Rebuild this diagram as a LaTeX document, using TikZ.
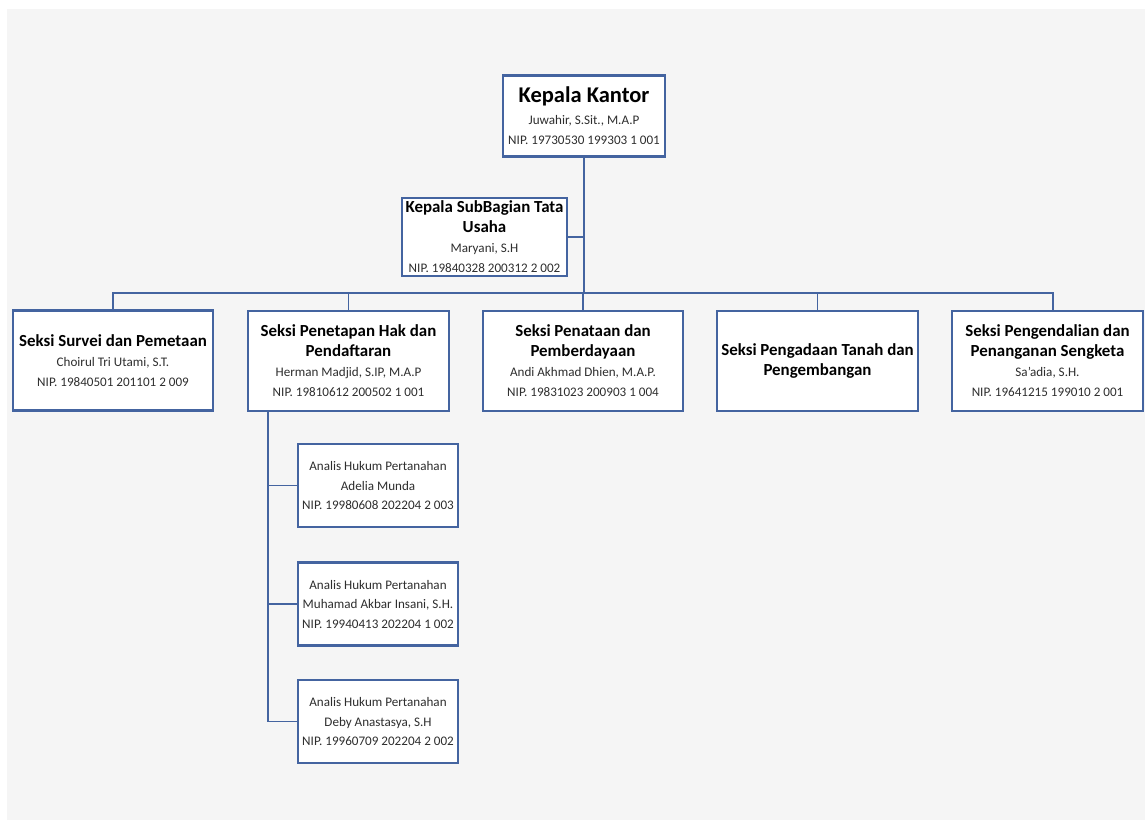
\documentclass[tikz,border=0pt]{standalone}
\usepackage{fontspec}
\setmainfont{Carlito}
\usepackage{xcolor}
\usetikzlibrary{positioning}

\definecolor{orgblue}{RGB}{68,100,160}
\definecolor{paper}{RGB}{245,245,245}
\newcommand{\jab}[1]{{\fontsize{16.9}{20}\selectfont\bfseries\color{black}#1}}

\begin{document}
\begin{tikzpicture}[
    x=1pt,
    y=-1pt,
    line cap=rect
]

\tikzstyle{unit}=[
    draw=orgblue,
    line width=2.4pt,
    fill=white,
    minimum width=200pt,
    minimum height=100pt,
    inner sep=2pt,
    align=center,
    font=\fontsize{13.1}{20}\selectfont,
    text=black!82
]
\tikzstyle{staff}=[
    unit,
    minimum width=160pt,
    minimum height=83pt,
    font=\fontsize{13.1}{19.5}\selectfont
]
\tikzstyle{link}=[draw=orgblue, line width=1.5pt]

\useasboundingbox (0,0) rectangle (1145,820);
\fill[paper] (7,9) rectangle (1145,820);


\node[unit, minimum width=162pt, minimum height=81pt] (kepala) at (584,116)
    {{\fontsize{22.5}{24}\selectfont\bfseries\color{black}Kepala Kantor}\\[2pt]
     Juwahir, S.Sit., M.A.P\\ NIP. 19730530 199303 1 001};
\node[unit, minimum width=165pt, minimum height=78pt] (tu) at (484.5,237)
    {\jab{Kepala SubBagian Tata}\\ \jab{Usaha}\\ Maryani, S.H\\ NIP. 19840328 200312 2 002};


\node[unit] (survei) at (113,360.5)
    {\jab{Seksi Survei dan Pemetaan}\\ Choirul Tri Utami, S.T.\\ NIP. 19840501 201101 2 009};
\node[unit, minimum width=201pt] (penetapan) at (348.5,361)
    {\jab{Seksi Penetapan Hak dan}\\ \jab{Pendaftaran}\\ Herman Madjid, S.IP, M.A.P\\ NIP. 19810612 200502 1 001};
\node[unit] (penataan) at (583,361)
    {\jab{Seksi Penataan dan}\\ \jab{Pemberdayaan}\\ Andi Akhmad Dhien, M.A.P.\\ NIP. 19831023 200903 1 004};
\node[unit, minimum width=201pt] (pengadaan) at (817.5,361)
    {\jab{Seksi Pengadaan Tanah dan}\\ \jab{Pengembangan}};
\node[unit, minimum width=191pt] (sengketa) at (1047.5,361)
    {\jab{Seksi Pengendalian dan}\\ \jab{Penanganan Sengketa}\\ Sa'adia, S.H.\\ NIP. 19641215 199010 2 001};


\node[staff] (analis1) at (378,485.5)
    {Analis Hukum Pertanahan\\ Adelia Munda\\ NIP. 19980608 202204 2 003};
\node[staff] (analis2) at (378,604)
    {Analis Hukum Pertanahan\\ Muhamad Akbar Insani, S.H.\\ NIP. 19940413 202204 1 002};
\node[staff] (analis3) at (378,721.5)
    {Analis Hukum Pertanahan\\ Deby Anastasya, S.H\\ NIP. 19960709 202204 2 002};


\coordinate (bus) at (584,293);
\coordinate (sengketatop) at ([xshift=5.5pt]sengketa.north);
\coordinate (trunk) at ([xshift=-80.5pt]penetapan.south);

\draw[link] (kepala.south) -- (bus);
\draw[link] (tu.east) -- (tu.east -| bus);
\draw[link] (survei.north |- bus) -- (sengketatop |- bus);
\foreach \s in {survei,penetapan,penataan,pengadaan}
    \draw[link] (\s.north) -- (\s.north |- bus);
\draw[link] (sengketatop) -- (sengketatop |- bus);

\draw[link] (trunk) -- (trunk |- analis3.west);
\foreach \a in {1,2,3}
    \draw[link] (trunk |- analis\a.west) -- (analis\a.west);

\end{tikzpicture}
\end{document}
